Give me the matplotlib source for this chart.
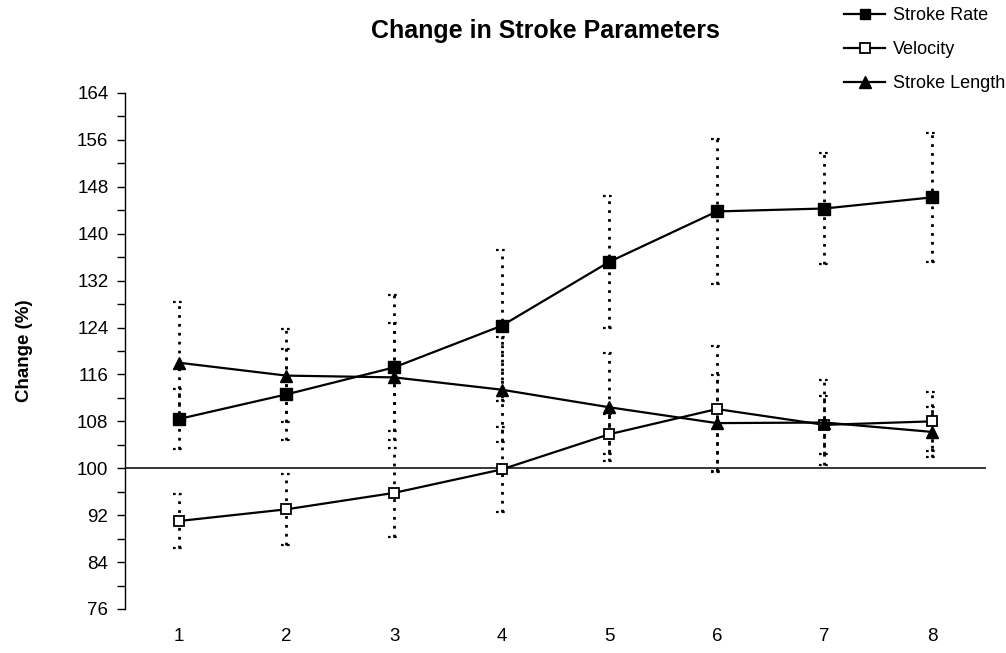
"""Change in stroke parameters across the eight test stages."""

import numpy as np
import matplotlib.pyplot as plt

plt.rcParams["font.family"] = ["Liberation Sans", "DejaVu Sans"]

stages = [1, 2, 3, 4, 5, 6, 7, 8]

stroke_rate = [108.4, 112.6, 117.2, 124.3, 135.2, 143.8, 144.3, 146.2]
stroke_rate_err = [5.2, 7.8, 12.4, 12.9, 11.2, 12.3, 9.5, 11.0]

velocity = [91.0, 93.0, 95.8, 99.8, 105.8, 110.1, 107.4, 108.0]
velocity_err = [4.6, 6.1, 7.6, 7.2, 3.4, 10.8, 5.0, 5.0]

stroke_length = [118.0, 115.8, 115.5, 113.4, 110.4, 107.7, 107.8, 106.2]
stroke_length_err = [10.4, 7.9, 9.2, 9.0, 9.2, 8.2, 7.2, 4.3]

y_ticks = np.arange(76, 165, 8)


def draw_errors(ax, x, y, err):
    x = np.asarray(x, dtype=float)
    y = np.asarray(y, dtype=float)
    err = np.asarray(err, dtype=float)
    dots = (0, (1, 2.2))
    ax.vlines(x, y - err, y + err, colors="black", linewidth=2.0,
              linestyles=[dots], zorder=1)
    for edge in (y - err, y + err):
        ax.hlines(edge, x - 0.055, x + 0.055, colors="black", linewidth=1.6,
                  linestyles=[(0, (1.2, 1.5))], zorder=1)


fig = plt.figure(figsize=(10.06, 6.53), dpi=100)
ax = fig.add_axes([0.1243, 0.0674, 0.8557, 0.7902])

for vals, errs in ((stroke_rate, stroke_rate_err),
                   (velocity, velocity_err),
                   (stroke_length, stroke_length_err)):
    draw_errors(ax, stages, vals, errs)

ax.axhline(100, color="black", linewidth=1.1, zorder=2)

ax.plot(stages, stroke_rate, color="black", linewidth=1.6, marker="s",
        markersize=8, markerfacecolor="black", label="Stroke Rate", zorder=4)
ax.plot(stages, velocity, color="black", linewidth=1.6, marker="s",
        markersize=7.5, markerfacecolor="white", markeredgewidth=1.3,
        label="Velocity", zorder=4)
ax.plot(stages, stroke_length, color="black", linewidth=1.6, marker="^",
        markersize=9, markerfacecolor="black", label="Stroke Length", zorder=4)

ax.set_xlim(0.5, 8.5)
ax.set_ylim(76, 164)
ax.set_xticks(stages)
ax.set_yticks(y_ticks)
ax.set_yticks(np.arange(80, 164, 8), minor=True)
ax.tick_params(axis="x", length=0, labelsize=13.5, pad=14)
ax.tick_params(axis="y", which="both", direction="out", length=6, width=1,
               labelsize=13.5, pad=6)
for side in ("top", "right", "bottom"):
    ax.spines[side].set_visible(False)
ax.spines["left"].set_linewidth(1.0)

ax.set_ylabel("Change (%)", fontsize=13.5, fontweight="bold")
ax.yaxis.set_label_coords(-0.107, 0.5)
fig.text(0.542, 0.953, "Change in Stroke Parameters", ha="center", va="center",
         fontsize=18, fontweight="bold")

fig.legend(loc="upper right", bbox_to_anchor=(1.015, 1.014), frameon=False,
           fontsize=13, handlelength=2.3, handletextpad=0.4,
           labelspacing=0.95, markerscale=0.9)

fig.savefig("out.png", dpi=100)
